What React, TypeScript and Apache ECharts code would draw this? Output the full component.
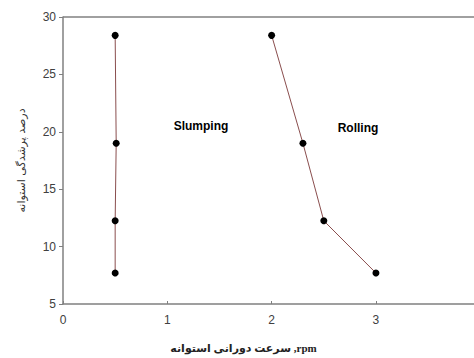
import React, { useEffect, useRef } from "react";
import * as echarts from "echarts";

const slumpingX = [0.5, 0.51, 0.5, 0.5];
const slumpingY = [28.4, 19.0, 12.25, 7.7];
const rollingX = [2.0, 2.3, 2.5, 3.0];
const rollingY = [28.4, 19.0, 12.25, 7.7];
const yTicks = [5, 10, 15, 20, 25, 30];
const xTicks = [0, 1, 2, 3];
const xTitle = "سرعت دورانی استوانه ,rpm";
const yTitle = "درصد پرشدگی استوانه";
const regionLabels = ["Slumping", "Rolling"];

export default function App() {
  const ref = useRef<HTMLDivElement>(null);
  useEffect(() => {
    const chart = echarts.init(ref.current!, null, { renderer: "svg" });
    const lineColor = "#8a4e4e";
    const mk = (xs: number[], ys: number[]) => ({
      type: "line",
      data: xs.map((x, i) => [x, ys[i]]),
      symbol: "circle",
      symbolSize: 7,
      itemStyle: { color: "#000" },
      lineStyle: { color: lineColor, width: 1 },
      z: 3,
    });
    chart.setOption({
      animation: false,
      textStyle: { fontFamily: "Liberation Sans, Arial, sans-serif" },
      grid: { left: 63, right: 0, top: 17, bottom: 49 },
      xAxis: {
        type: "value",
        min: 0,
        max: 3.94,
        interval: 1,
        axisLine: { show: true, onZero: false, lineStyle: { color: "#808080", width: 1.5 } },
        axisTick: { show: true, inside: true, length: 3, lineStyle: { color: "#808080" } },
        axisLabel: {
          color: "#404040",
          fontSize: 12,
          margin: 10,
          showMaxLabel: false,
          formatter: (v: number) => (xTicks.includes(v) ? String(v) : ""),
        },
        splitLine: { show: false },
        name: xTitle,
        nameLocation: "middle",
        nameGap: 38,
        nameTextStyle: { color: "#222", fontSize: 11, fontWeight: "bold", fontFamily: "Liberation Serif, DejaVu Sans, serif", padding: [0, 50, 0, 0] },
      },
      yAxis: {
        type: "value",
        min: 5,
        max: 30,
        interval: 5,
        axisLine: { show: true, lineStyle: { color: "#808080", width: 1.5 } },
        axisTick: { show: true, inside: false, length: 4, lineStyle: { color: "#808080" } },
        axisLabel: {
          color: "#404040",
          fontSize: 12,
          margin: 7,
          formatter: (v: number) => (yTicks.includes(v) ? String(v) : ""),
        },
        splitLine: { show: false },
        name: yTitle,
        nameLocation: "middle",
        nameGap: 36,
        nameRotate: 90,
        nameTextStyle: { color: "#333", fontSize: 11, fontFamily: "DejaVu Sans, Noto Sans, sans-serif" },
      },
      graphic: [
        {
          type: "line",
          shape: { x1: 63, y1: 17, x2: 474, y2: 17 },
          style: { stroke: "#808080", lineWidth: 1.5 },
        },
        {
          type: "text",
          x: 201,
          y: 126,
          style: { text: regionLabels[0], font: "bold 12px Liberation Sans, Arial", fill: "#000", textAlign: "center", textVerticalAlign: "middle" },
        },
        {
          type: "text",
          x: 358,
          y: 128,
          style: { text: regionLabels[1], font: "bold 12px Liberation Sans, Arial", fill: "#000", textAlign: "center", textVerticalAlign: "middle" },
        },
      ],
      series: [mk(slumpingX, slumpingY), mk(rollingX, rollingY)],
    });
    return () => chart.dispose();
  }, []);
  return <div ref={ref} style={{ width: 474, height: 358, position: "absolute", left: 0, top: 0, overflow: "hidden" }} />;
}
